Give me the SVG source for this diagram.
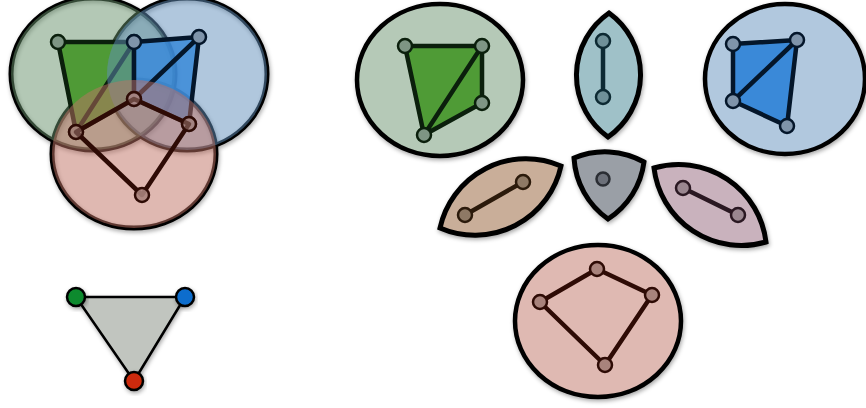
<svg xmlns="http://www.w3.org/2000/svg" width="866" height="408" viewBox="0 0 866 408">
<defs>
<filter id="sh" x="-20%" y="-20%" width="140%" height="150%"><feDropShadow dx="1" dy="2" stdDeviation="2" flood-color="#000" flood-opacity="0.35"/></filter>
</defs>
<style>
.ring{fill:none;stroke:#000;stroke-width:5}
.shape{stroke:#000;stroke-width:4.5;filter:url(#sh)}
.lens{stroke:#000;stroke-width:5;filter:url(#sh)}
.edge{fill:none;stroke-width:4.5;stroke-linecap:round;stroke-linejoin:round}
.nd{stroke-width:2.5}
.g-e{stroke:#0b1f0c}.g-n{fill:#7e9584;stroke:#0b1f0c}
.b-e{stroke:#04162a}.b-n{fill:#7f94aa;stroke:#04162a}
.r-e{stroke:#2e0b05}.r-n{fill:#a8837c;stroke:#2e0b05}
</style>
<rect width="866" height="408" fill="#fff"/>

<!-- Left Venn -->
<g id="venn-rings" filter="url(#sh)">
<ellipse class="ring" cx="93" cy="74" rx="82" ry="76"/>
<ellipse class="ring" cx="187" cy="74" rx="80" ry="76"/>
<ellipse class="ring" cx="134" cy="154" rx="82" ry="74"/>
</g>
<g id="venn-green">
<ellipse cx="93" cy="74" rx="82" ry="76" fill="rgb(103,145,107)" fill-opacity="0.5"/>
<polygon points="58,42 134,42 134,99 76,132" fill="#4f9a36"/>
<g class="edges"><path class="edge g-e" d="M58,42 L134,42 L134,99 L76,132 Z M134,42 L76,132"/></g>
<circle class="nd g-n" cx="58" cy="42" r="7"/><circle class="nd g-n" cx="134" cy="42" r="7"/>
</g>
<g id="venn-blue">
<ellipse cx="187" cy="74" rx="80" ry="76" fill="rgb(97,143,187)" fill-opacity="0.5"/>
<polygon points="134,42 199,37 189,124 134,99" fill="#3a89d8" fill-opacity="0.85"/>
<g class="edges"><path class="edge b-e" d="M134,42 L199,37 L189,124 L134,99 Z M199,37 L134,99"/></g>
<circle class="nd b-n" cx="134" cy="42" r="7"/><circle class="nd b-n" cx="199" cy="37" r="7"/>
<circle class="nd b-n" cx="134" cy="99" r="7"/><circle class="nd b-n" cx="189" cy="124" r="7"/>
<circle class="nd g-n" cx="76" cy="132" r="7"/>
</g>
<g id="venn-red">
<ellipse cx="134" cy="154" rx="82" ry="74" fill="rgb(191,113,99)" fill-opacity="0.5"/>
<g class="edges"><path class="edge r-e" d="M76,132 L134,99 L189,124 L142,195 Z"/></g>
<circle class="nd r-n" cx="142" cy="195" r="7" fill-opacity="0.9"/>
<circle class="nd r-n" cx="76" cy="132" r="7" fill-opacity="0.5"/>
<circle class="nd r-n" cx="134" cy="99" r="7" fill-opacity="0.5"/>
<circle class="nd r-n" cx="189" cy="124" r="7" fill-opacity="0.5"/>
</g>

<!-- Bottom-left triangle -->
<g id="triangle">
<polygon points="76,297 185,297 134,381" fill="#c1c5bf" stroke="#000" stroke-width="2.5" stroke-linejoin="round" filter="url(#sh)"/>
<circle cx="76" cy="297" r="9" fill="#0b8a2f" stroke="#000" stroke-width="2.5" filter="url(#sh)"/>
<circle cx="185" cy="297" r="9" fill="#0b6dcd" stroke="#000" stroke-width="2.5" filter="url(#sh)"/>
<circle cx="134" cy="381" r="9" fill="#cc2b08" stroke="#000" stroke-width="2.5" filter="url(#sh)"/>
</g>

<!-- Right: green set -->
<g id="set-green">
<ellipse class="shape" cx="440" cy="80" rx="83" ry="76" fill="#b5c9b7"/>
<polygon points="405,46 482,46 482,103 424,135" fill="#4f9b36"/>
<g class="edges"><path class="edge g-e" d="M405,46 L482,46 L482,103 L424,135 Z M482,46 L424,135"/></g>
<circle class="nd g-n" cx="405" cy="46" r="7"/><circle class="nd g-n" cx="482" cy="46" r="7"/>
<circle class="nd g-n" cx="482" cy="103" r="7"/><circle class="nd g-n" cx="424" cy="135" r="7"/>
</g>

<!-- Right: blue set -->
<g id="set-blue">
<ellipse class="shape" cx="785" cy="79" rx="80" ry="75" fill="#b1c8de"/>
<polygon points="733,44 797,40 787,126 733,101" fill="#3a89d8"/>
<g class="edges"><path class="edge b-e" d="M733,44 L797,40 L787,126 L733,101 Z M797,40 L733,101"/></g>
<circle class="nd b-n" cx="733" cy="44" r="7"/><circle class="nd b-n" cx="797" cy="40" r="7"/>
<circle class="nd b-n" cx="733" cy="101" r="7"/><circle class="nd b-n" cx="787" cy="126" r="7"/>
</g>

<!-- Right: red set -->
<g id="set-red">
<ellipse class="shape" cx="598" cy="321" rx="83" ry="76" fill="#dfb9b2"/>
<g class="edges"><path class="edge r-e" d="M540,302 L597,269 L652,295 L605,365 Z"/></g>
<circle class="nd r-n" cx="540" cy="302" r="7"/><circle class="nd r-n" cx="597" cy="269" r="7"/>
<circle class="nd r-n" cx="652" cy="295" r="7"/><circle class="nd r-n" cx="605" cy="365" r="7"/>
</g>

<!-- Green ∩ Blue lens -->
<g id="lens-gb">
<path class="lens" d="M609,13 A76 76 0 0 1 608,137 A76 76 0 0 1 609,13 Z" fill="#9fc1c8"/>
<g class="edges"><path class="edge" stroke="#0d2a33" stroke-width="4" d="M603,41 L603,97"/></g>
<circle class="nd" cx="603" cy="41" r="7" fill="#6f9098" stroke="#0d2a33"/>
<circle class="nd" cx="603" cy="97" r="7" fill="#6f9098" stroke="#0d2a33"/>
</g>

<!-- Green ∩ Red lens -->
<g id="lens-gr">
<path class="lens" d="M440,228 A88 88 0 0 1 561,166 A88 88 0 0 1 440,228 Z" fill="#c9ae99"/>
<g class="edges"><path class="edge" stroke="#2b1a0b" stroke-width="4" d="M465,215 L523,182"/></g>
<circle class="nd" cx="465" cy="215" r="7" fill="#8e7965" stroke="#2b1a0b"/>
<circle class="nd" cx="523" cy="182" r="7" fill="#8e7965" stroke="#2b1a0b"/>
</g>

<!-- Green ∩ Blue ∩ Red -->
<g id="center">
<path class="lens" d="M574,158 A80 80 0 0 1 644,162 A80 80 0 0 1 608,219 A80 80 0 0 1 574,158 Z" fill="#9a9fa6"/>
<circle class="nd" cx="603" cy="179" r="6.5" fill="#6c7079" stroke="#2a2d33"/>
</g>

<!-- Blue ∩ Red lens -->
<g id="lens-br">
<path class="lens" d="M654,168 A88 88 0 0 1 766,242 A88 88 0 0 1 654,168 Z" fill="#c9b2bd"/>
<g class="edges"><path class="edge" stroke="#2a1822" stroke-width="4" d="M683,188 L738,215"/></g>
<circle class="nd" cx="683" cy="188" r="7" fill="#9a8790" stroke="#2a1822"/>
<circle class="nd" cx="738" cy="215" r="7" fill="#9a8790" stroke="#2a1822"/>
</g>
</svg>
